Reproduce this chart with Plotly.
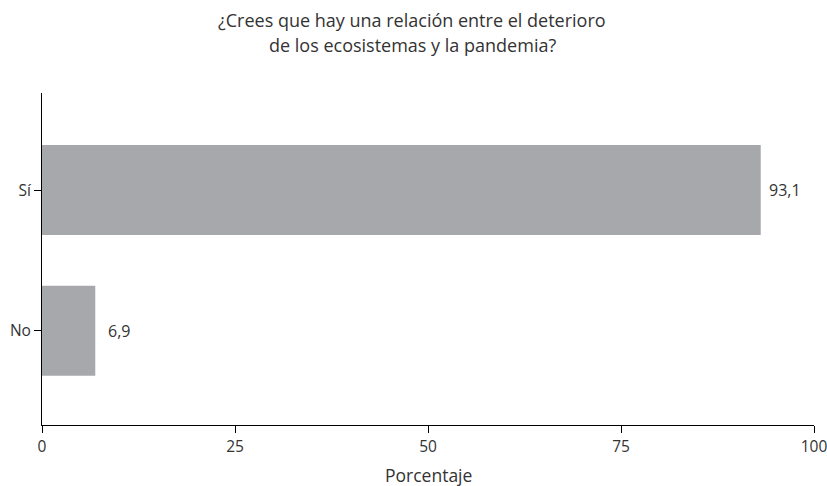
import plotly.graph_objects as go

categories = ["No", "Sí"]
values = [6.9, 93.1]
x_ticks = [0, 25, 50, 75, 100]
title_lines = ["¿Crees que hay una relación entre el deterioro", "de los ecosistemas y la pandemia?"]
x_title = "Porcentaje"

FONT = "Open Sans"
TEXT = "#333333"

ML, MR, MT, MB = 42, 13, 93, 61
PW = 827 - ML - MR
PH = 486 - MT - MB

fig = go.Figure(go.Bar(
    x=values, y=categories, orientation="h",
    marker=dict(color="#A7A8AB", line=dict(width=0)),
    hoverinfo="x+y",
))

# data labels
for v, c in zip(values, categories):
    fig.add_annotation(x=v, y=c, xref="x", yref="y", text=f"{v:.1f}".replace(".", ","),
                       showarrow=False, xanchor="center", yanchor="middle", xshift=24,
                       font=dict(family=FONT, size=16, color=TEXT))

# title lines
for i, line in enumerate(title_lines):
    fig.add_annotation(x=(412 - ML) / PW, xref="paper", y=1 + (73 - 25 * i) / PH, yref="paper",
                       text=line, showarrow=False, xanchor="center", yanchor="middle",
                       font=dict(family=FONT, size=18, color=TEXT))

# x axis title
fig.add_annotation(x=0.5, xref="paper", y=-50 / PH, yref="paper", text=x_title,
                   showarrow=False, xanchor="center", yanchor="middle",
                   font=dict(family=FONT, size=17.5, color=TEXT))

fig.update_layout(
    width=827, height=486,
    margin=dict(l=ML, r=MR, t=MT, b=MB, autoexpand=False),
    plot_bgcolor="white", paper_bgcolor="white",
    separators=",.",
    bargap=0.36,
    showlegend=False,
    font=dict(family=FONT, size=14, color=TEXT),
    xaxis=dict(
        range=[0, 100], tickvals=x_ticks, ticktext=[str(t) for t in x_ticks],
        showgrid=False, zeroline=False, automargin=False,
        showline=True, linecolor="black", linewidth=1,
        ticks="outside", ticklen=7, tickcolor="black",
        ticklabeloverflow="allow",
        tickfont=dict(family=FONT, size=15.5, color=TEXT),
    ),
    yaxis=dict(
        categoryorder="array", categoryarray=categories,
        range=[-0.67, 1.69], automargin=False,
        showgrid=False, zeroline=False,
        showline=True, linecolor="black", linewidth=1,
        ticks="outside", ticklen=7, tickcolor="black",
        tickfont=dict(family=FONT, size=15.5, color=TEXT),
    ),
)

fig.write_html("out.html",
               config={"displayModeBar": False},
               post_script="document.body.style.margin='0';document.body.style.overflow='hidden';")
